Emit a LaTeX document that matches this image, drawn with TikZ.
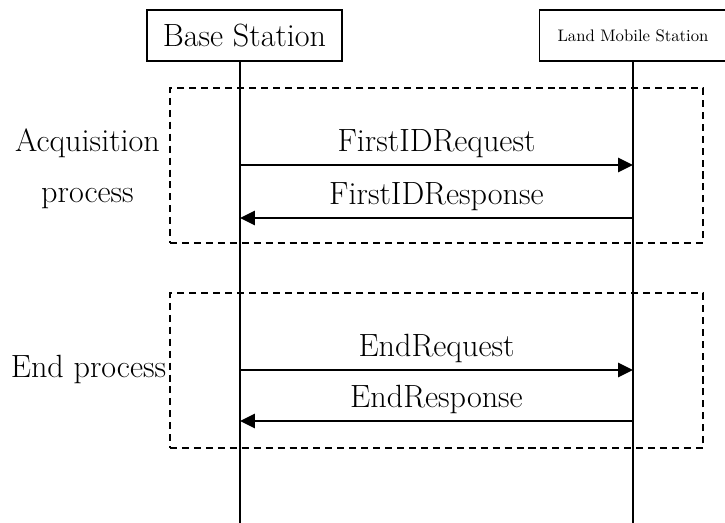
\documentclass[tikz,border=0pt]{standalone}
\usepackage{tikz}
\usetikzlibrary{arrows.meta,positioning}

\begin{document}
\begin{tikzpicture}[>={Triangle[length=8.5pt,width=8pt]},
  font=\fontsize{18.3}{22}\selectfont,
  actor/.style={draw, line width=0.9pt, minimum height=1.02cm, inner sep=0pt},
  lifeline/.style={line width=0.9pt},
  msg/.style={->, line width=1.3pt},
  phase/.style={draw, dash pattern=on 4pt off 2.8pt, line width=0.9pt, inner sep=0pt}]
  \useasboundingbox (0,0) rectangle (14.5,-10.46);
  % actors
  \node[actor, minimum width=3.9cm] (bs) at (4.89,-0.71) {Base Station};
  \node[actor, minimum width=3.74cm, font=\fontsize{9.5}{11}\selectfont] (lms) at (12.66,-0.71) {Land Mobile Station};
  \coordinate (bsend) at (4.8,-10.46);
  \coordinate (lmsend) at (12.66,-10.46);
  \draw[lifeline] (bsend |- bs.south) -- (bsend);
  \draw[lifeline] (lms.south) -- (lmsend);
  % phases
  \node[phase, minimum width=10.66cm, minimum height=3.1cm] (acq) at (8.73,-3.31) {};
  \node[phase, minimum width=10.66cm, minimum height=3.1cm] (fin) at (8.73,-7.41) {};
  \node[align=center, font=\fontsize{18.3}{29}\selectfont] (acqlbl) at (1.75,-3.37) {Acquisition\\process};
  \node (finlbl) at (1.77,-7.38) {End process};
  % messages
  \coordinate (bs1) at (4.8,-3.3);   \coordinate (lms1) at (12.66,-3.3);
  \coordinate (bs2) at (4.8,-4.36);  \coordinate (lms2) at (12.66,-4.36);
  \coordinate (bs3) at (4.8,-7.4);   \coordinate (lms3) at (12.66,-7.4);
  \coordinate (bs4) at (4.8,-8.42);  \coordinate (lms4) at (12.66,-8.42);
  \draw[msg] (bs1) -- node[above=0pt] {FirstIDRequest} (lms1);
  \draw[msg] (lms2) -- node[above=0pt] {FirstIDResponse} (bs2);
  \draw[msg] (bs3) -- node[above=0pt] {EndRequest} (lms3);
  \draw[msg] (lms4) -- node[above=0pt] {EndResponse} (bs4);
\end{tikzpicture}
\end{document}
